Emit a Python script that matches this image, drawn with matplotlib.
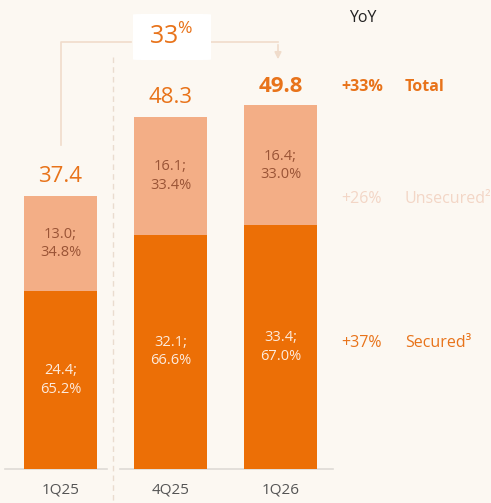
import matplotlib.pyplot as plt
from matplotlib.patches import FancyBboxPatch

# data
quarters = ['1Q25', '4Q25', '1Q26']
secured = [24.4, 32.1, 33.4]
unsecured = [13.0, 16.1, 16.4]
totals = [37.4, 48.3, 49.8]
secured_share = ['65.2%', '66.6%', '67.0%']
unsecured_share = ['34.8%', '33.4%', '33.0%']
yoy_labels = ['+33%', '+26%', '+37%']
yoy_names = ['Total', 'Unsecured²', 'Secured³']
growth_label = '33'

# colours
bg = '#FCF8F2'
dark = '#EC6F06'
light = '#F3AE86'
orange_txt = '#E8731A'
faint = '#F3D6C6'
line_col = '#F0DCCB'

plt.rcParams['font.family'] = ['Open Sans', 'DejaVu Sans']
plt.rcParams['mathtext.fontset'] = 'custom'
plt.rcParams['mathtext.rm'] = 'Open Sans'
plt.rcParams['mathtext.it'] = 'Open Sans'
plt.rcParams['mathtext.default'] = 'regular'

W, H = 491, 503
fig = plt.figure(figsize=(W / 100, H / 100), dpi=100, facecolor=bg)
ax = fig.add_axes([0, 0, 1, 1])
ax.set_facecolor(bg)

# pixel mapping: bar centres 110px apart, first at x=60.5; baseline y=469, 7.3 px/unit
px_x = 110.0
px_y = 7.3
x0 = 60.5
base = 469
ax.set_xlim(-x0 / px_x, (W - x0) / px_x)
ax.set_ylim(-(H - base) / px_y, base / px_y)
ax.axis('off')

def dx(p):
    return (p - x0) / px_x

def dy(p):
    return (base - p) / px_y

pos = [0, 1, 2]
width = 0.665
ax.bar(pos, secured, width, color=dark, zorder=2)
ax.bar(pos, unsecured, width, bottom=secured, color=light, zorder=2)

for i in pos:
    ax.text(i, secured[i] / 2, f'{secured[i]:.1f};\n{secured_share[i]}',
            ha='center', va='center', color='#FDEBDD', fontsize=10.5, linespacing=1.3)
    ax.text(i, secured[i] + unsecured[i] / 2, f'{unsecured[i]:.1f};\n{unsecured_share[i]}',
            ha='center', va='center', color='#9A5436', fontsize=10.5, linespacing=1.3)
    ax.text(i, totals[i] + 2.6, f'{totals[i]:.1f}', ha='center', va='center',
            color=orange_txt, fontsize=16, fontweight='bold' if i == 2 else 'normal')
    ax.text(i, dy(490), quarters[i], ha='center', va='center', color='#555555', fontsize=11)

# baseline
ax.plot([dx(5), dx(107)], [0, 0], color='#DEDBD6', lw=1.2, zorder=1)
ax.plot([dx(120), dx(333)], [0, 0], color='#DEDBD6', lw=1.2, zorder=1)

# dashed separator
ax.plot([dx(113), dx(113)], [dy(57), dy(503)], color='#EADCCF', lw=1, ls=(0, (4, 3)), zorder=1)

# growth bracket
ax.plot([0, 0, dx(131)], [dy(145), dy(42), dy(42)], color=line_col, lw=1.2, zorder=1)
ax.plot([dx(211), dx(278)], [dy(42), dy(42)], color=line_col, lw=1.2, zorder=1)
ax.annotate('', xy=(dx(278), dy(62)), xytext=(dx(278), dy(42)),
            arrowprops=dict(arrowstyle='-|>', color=line_col, lw=1.2, mutation_scale=10))
box = FancyBboxPatch((dx(133), dy(60)), dx(211) - dx(133), dy(14) - dy(60),
                     boxstyle='round,pad=0,rounding_size=0.08', fc='white', ec='none', zorder=3)
ax.add_patch(box)
ax.text(dx(171), dy(37), growth_label + r'$^{\%}$', ha='center', va='center',
        color=orange_txt, fontsize=18, zorder=4)

# YoY column
fig.text(363 / W, 1 - 18 / H, 'YoY', ha='center', va='center', color='#222222', fontsize=11.5)
rows_y = [87, 199, 343]
styles = [(orange_txt, 'bold'), (faint, 'normal'), (orange_txt, 'normal')]
for lab, name, ry, (c, fw) in zip(yoy_labels, yoy_names, rows_y, styles):
    fig.text(362 / W, 1 - ry / H, lab, ha='center', va='center', color=c, fontsize=11.5, fontweight=fw)
    fig.text(405 / W, 1 - ry / H, name, ha='left', va='center', color=c, fontsize=11.5, fontweight=fw)

fig.savefig('out.png', dpi=100, facecolor=bg)
